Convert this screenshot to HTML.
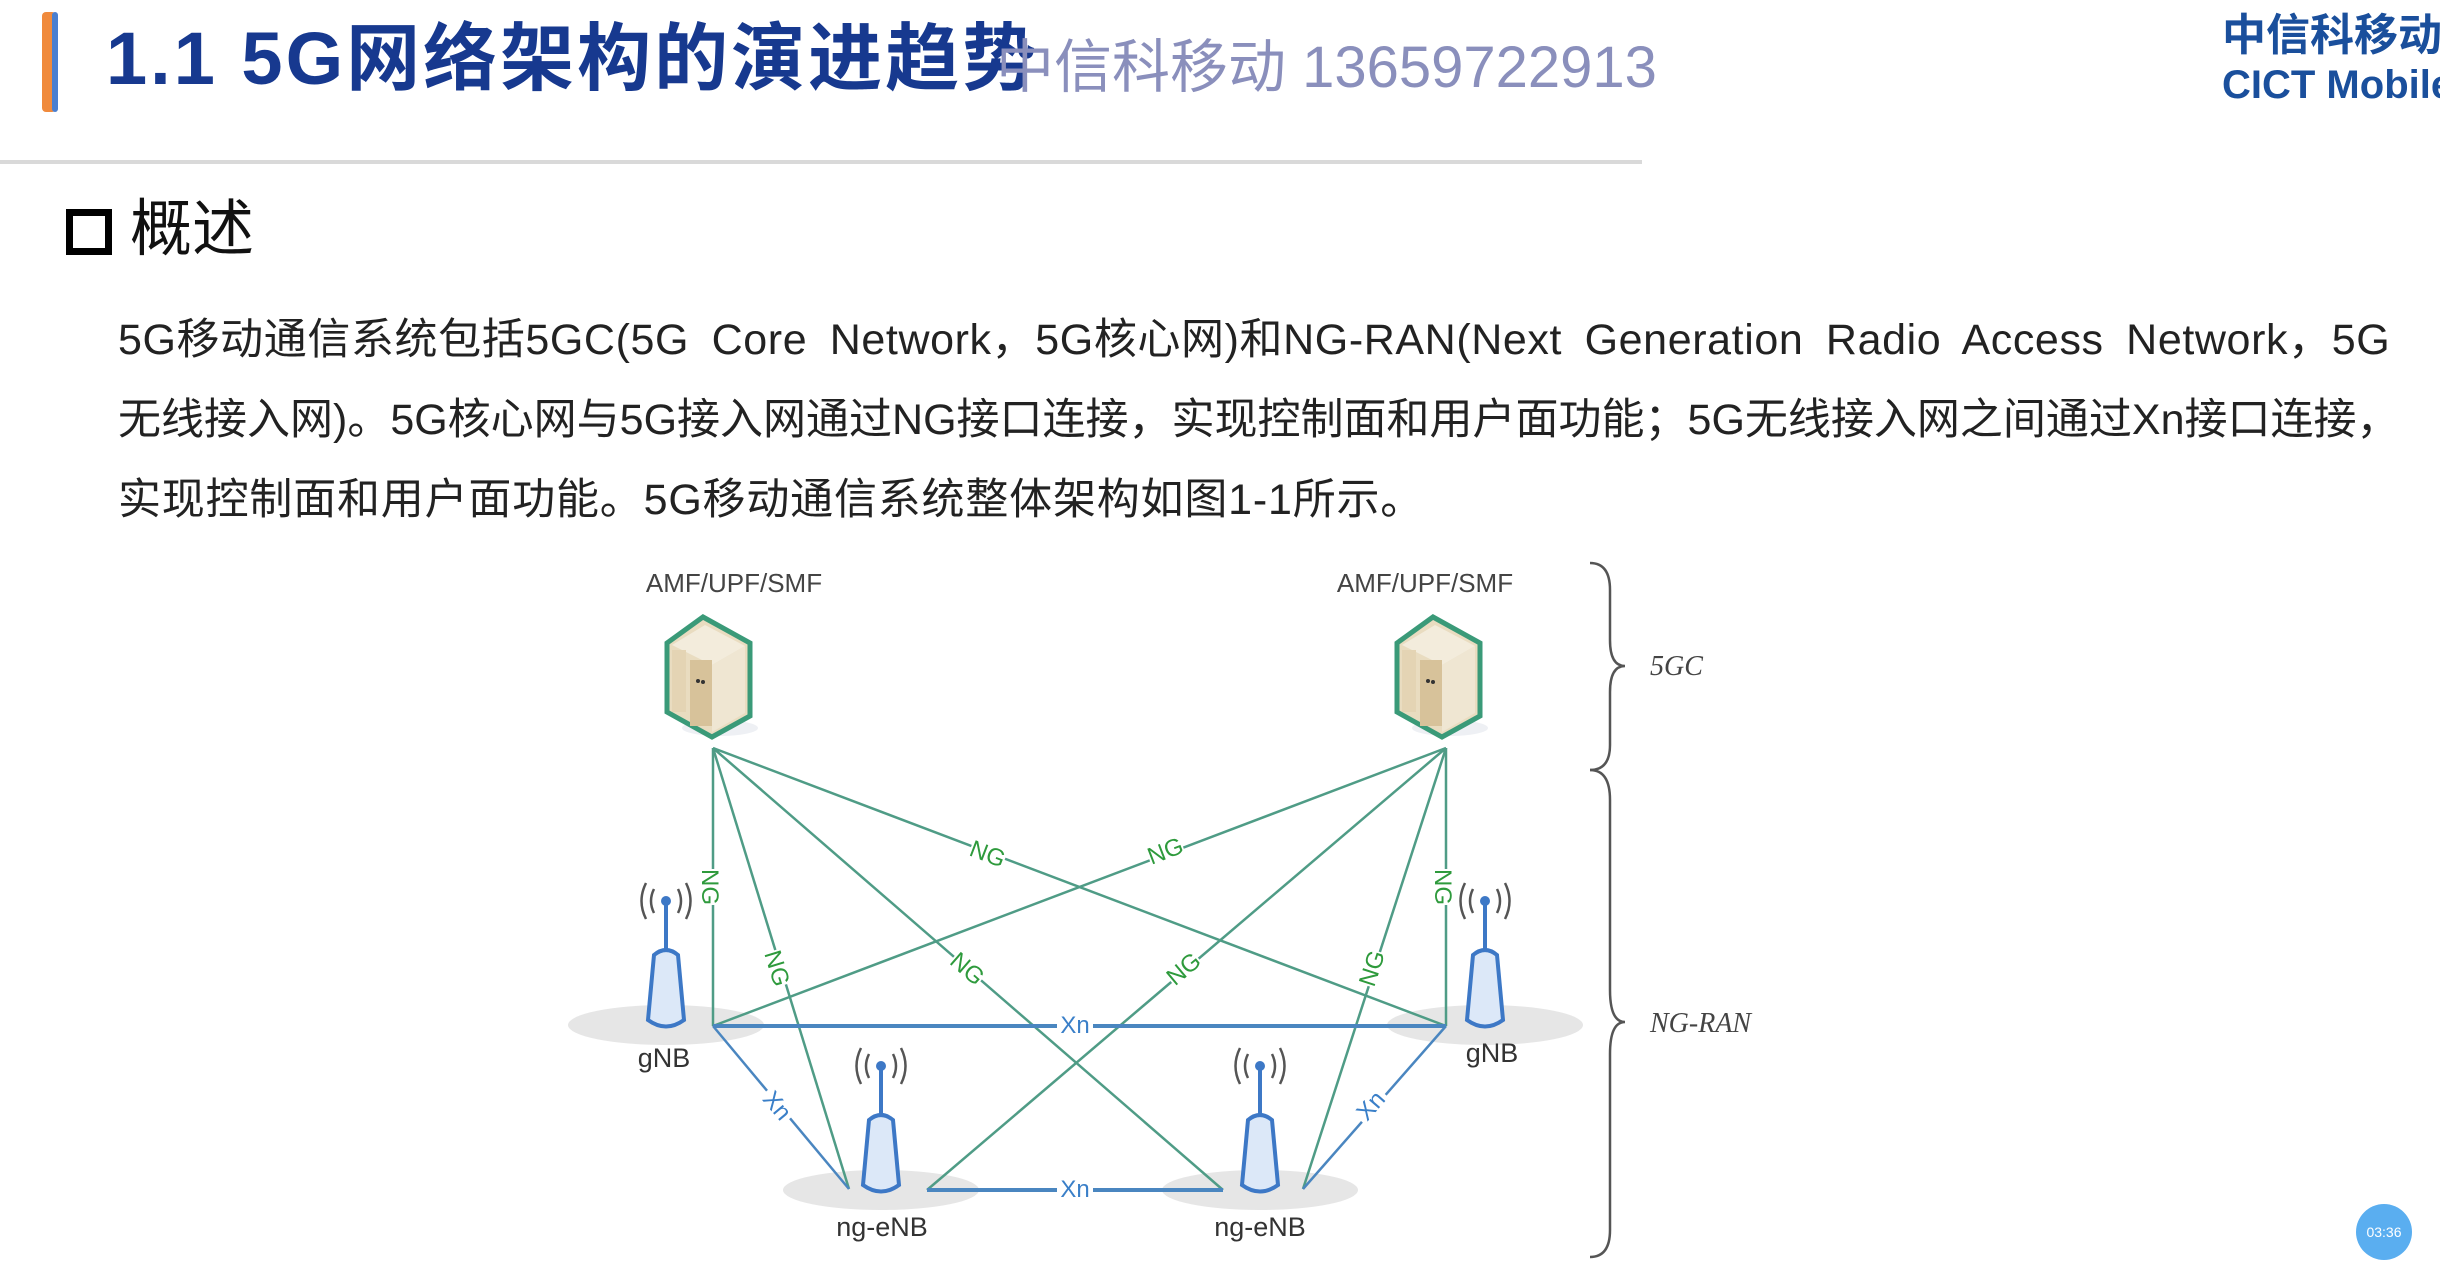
<!DOCTYPE html>
<html><head><meta charset="utf-8"><style>
html,body{margin:0;padding:0;background:#fff;}
body{width:2440px;height:1266px;position:relative;overflow:hidden;font-family:"Liberation Sans","Noto Sans CJK SC",sans-serif;}
.a{position:absolute;white-space:nowrap;}
</style></head><body>
<div class="a" style="left:42px;top:12px;width:14px;height:100px;background:#f08a3c;border-radius:4px;"></div>
<div class="a" style="left:52px;top:12px;width:6px;height:100px;background:#4a7fd0;border-radius:3px;"></div>
<div class="a" style="left:106px;top:14px;font-size:74px;font-weight:bold;color:#17398f;line-height:90px;letter-spacing:3px;">1.1 5G网络架构的演进趋势</div>
<div class="a" style="left:996px;top:34px;font-size:58px;color:#8a8fbc;line-height:68px;">中信科移动 13659722913</div>
<div class="a" style="left:2222px;top:10px;font-size:44px;font-weight:bold;color:#1a4f9c;line-height:52px;">中信科移动</div>
<div class="a" style="left:2222px;top:62px;font-size:40px;font-weight:bold;color:#1a4f9c;line-height:46px;">CICT Mobile</div>
<div class="a" style="left:0;top:160px;width:1642px;height:4px;background:#d9d9d9;"></div>
<div class="a" style="left:66px;top:209px;width:32px;height:32px;border:7px solid #000;"></div>
<div class="a" style="left:130px;top:192px;font-size:62px;color:#111;line-height:76px;">概述</div>
<div class="a" style="left:118px;top:300px;font-size:43px;color:#222;line-height:80px;white-space:normal;width:2320px;"><span style="word-spacing:10px;letter-spacing:0.6px;">5G移动通信系统包括5GC(5G Core Network，5G核心网)和NG-RAN(Next Generation Radio Access Network，5G</span><br>无线接入网)。5G核心网与5G接入网通过NG接口连接，实现控制面和用户面功能；5G无线接入网之间通过Xn接口连接，<br><span style="letter-spacing:0.8px;">实现控制面和用户面功能。5G移动通信系统整体架构如图1-1所示。</span></div>

<svg class="a" style="left:0;top:0" width="2440" height="1266" viewBox="0 0 2440 1266">
<defs>
<g id="srv">
<ellipse cx="720" cy="728" rx="38" ry="8" fill="#eef0f4"/>
<polygon points="703,617 750,643 750,716 712,737 667,712 667,643" fill="#e9dcc0" stroke="#3a9a78" stroke-width="5"/>
<polygon points="672,645 705,625 745,646 712,665" fill="#f3ecdc"/>
<polygon points="712,665 745,646 745,713 712,732" fill="#efe6d2"/>
<rect x="690" y="660" width="22" height="66" fill="#d7c29a"/>
<rect x="672" y="650" width="14" height="62" fill="#e4d4b4"/>
<circle cx="698" cy="681" r="2" fill="#333"/><circle cx="703" cy="682" r="2" fill="#333"/>
</g>
<g id="ant">
<ellipse cx="0" cy="0" rx="98" ry="20" fill="#e6e6e6"/>
<path d="M-12,-70 Q0,-80 12,-70 L18,-5 Q0,8 -18,-5 Z" fill="#dce8f8" stroke="#3d78c6" stroke-width="4"/>
<line x1="0" y1="-75" x2="0" y2="-122" stroke="#3d78c6" stroke-width="4"/>
<circle cx="0" cy="-124" r="5" fill="#3d78c6"/>
<path d="M-12,-136 Q-18,-124 -12,-112 M12,-136 Q18,-124 12,-112 M-20,-142 Q-29,-124 -20,-106 M20,-142 Q29,-124 20,-106" fill="none" stroke="#555" stroke-width="2.5"/>
</g>
</defs>
<text x="734" y="592" font-size="26" fill="#444" text-anchor="middle" font-family="Liberation Sans">AMF/UPF/SMF</text>
<text x="1425" y="592" font-size="26" fill="#444" text-anchor="middle" font-family="Liberation Sans">AMF/UPF/SMF</text>
<use href="#srv"/>
<use href="#srv" transform="translate(730,0)"/>
<use href="#ant" transform="translate(666,1025)"/>
<use href="#ant" transform="translate(1485,1025)"/>
<use href="#ant" transform="translate(881,1190)"/>
<use href="#ant" transform="translate(1260,1190)"/>
<g stroke="#4f9c86" stroke-width="2.5" fill="none">
<line x1="713" y1="748" x2="713" y2="1026"/>
<line x1="713" y1="748" x2="849" y2="1189"/>
<line x1="713" y1="748" x2="1223" y2="1190"/>
<line x1="713" y1="748" x2="1446" y2="1026"/>
<line x1="1446" y1="748" x2="1446" y2="1026"/>
<line x1="1446" y1="748" x2="1303" y2="1189"/>
<line x1="1446" y1="748" x2="927" y2="1190"/>
<line x1="1446" y1="748" x2="713" y2="1026"/>
</g>
<g stroke="#4a86c0" fill="none">
<line x1="713" y1="1026" x2="1446" y2="1026" stroke-width="4"/>
<line x1="713" y1="1026" x2="849" y2="1189" stroke-width="2.5"/>
<line x1="1446" y1="1026" x2="1303" y2="1189" stroke-width="2.5"/>
<line x1="927" y1="1190" x2="1223" y2="1190" stroke-width="4"/>
</g>
<g font-family="Liberation Sans" font-size="24" text-anchor="middle" fill="#2e9a3c">
<g transform="translate(711,887) rotate(90)"><rect x="-18" y="-14" width="36" height="28" fill="#fff"/><text y="9">NG</text></g>
<g transform="translate(1444,887) rotate(90)"><rect x="-18" y="-14" width="36" height="28" fill="#fff"/><text y="9">NG</text></g>
<g transform="translate(988,853) rotate(21)"><rect x="-18" y="-14" width="36" height="28" fill="#fff"/><text y="9">NG</text></g>
<g transform="translate(1165,850) rotate(-21)"><rect x="-18" y="-14" width="36" height="28" fill="#fff"/><text y="9">NG</text></g>
<g transform="translate(778,968) rotate(73)"><rect x="-18" y="-14" width="36" height="28" fill="#fff"/><text y="9">NG</text></g>
<g transform="translate(968,968) rotate(41)"><rect x="-18" y="-14" width="36" height="28" fill="#fff"/><text y="9">NG</text></g>
<g transform="translate(1183,968) rotate(-40)"><rect x="-18" y="-14" width="36" height="28" fill="#fff"/><text y="9">NG</text></g>
<g transform="translate(1371,968) rotate(-72)"><rect x="-18" y="-14" width="36" height="28" fill="#fff"/><text y="9">NG</text></g>
</g>
<g font-family="Liberation Sans" font-size="24" text-anchor="middle" fill="#3a7fc8">
<g transform="translate(1075,1024)"><rect x="-18" y="-14" width="36" height="28" fill="#fff"/><text y="9">Xn</text></g>
<g transform="translate(1075,1188)"><rect x="-18" y="-14" width="36" height="28" fill="#fff"/><text y="9">Xn</text></g>
<g transform="translate(778,1105) rotate(50)"><rect x="-18" y="-14" width="36" height="28" fill="#fff"/><text y="9">Xn</text></g>
<g transform="translate(1370,1105) rotate(-49)"><rect x="-18" y="-14" width="36" height="28" fill="#fff"/><text y="9">Xn</text></g>
</g>
<g font-family="Liberation Sans" font-size="27" fill="#333" text-anchor="middle">
<text x="664" y="1067">gNB</text><text x="1492" y="1062">gNB</text>
<text x="882" y="1236">ng-eNB</text><text x="1260" y="1236">ng-eNB</text>
</g>
<path d="M1590,563 Q1610,563 1610,590 L1610,640 Q1610,666 1625,666 Q1610,666 1610,692 L1610,745 Q1610,770 1590,770" fill="none" stroke="#555" stroke-width="2.5"/>
<path d="M1590,770 Q1610,770 1610,800 L1610,990 Q1610,1022 1625,1022 Q1610,1022 1610,1054 L1610,1230 Q1610,1257 1590,1257" fill="none" stroke="#555" stroke-width="2.5"/>
<g font-family="Liberation Serif" font-style="italic" font-size="28" fill="#444">
<text x="1650" y="675">5GC</text><text x="1650" y="1032">NG-RAN</text>
</g>
<circle cx="2384" cy="1232" r="28" fill="#5aaef0"/>
<text x="2384" y="1237" font-size="14" fill="#fff" text-anchor="middle" font-family="Liberation Sans">03:36</text>
</svg>
</body></html>
